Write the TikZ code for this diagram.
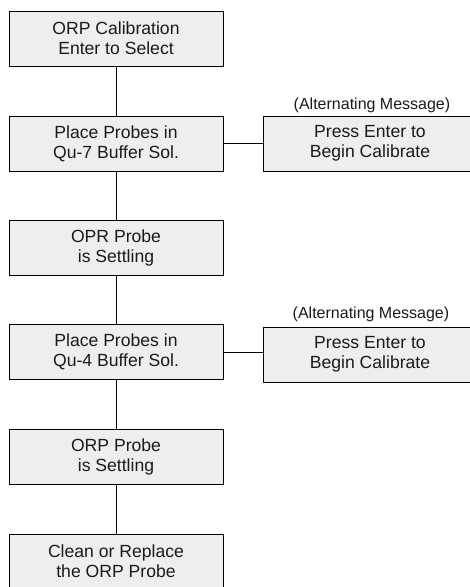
\documentclass[tikz,border=0pt]{standalone}
\usepackage{fontspec}
\setmainfont{Liberation Sans}
\usepackage{xcolor}
\usepackage{tikz}
\usetikzlibrary{positioning}
\definecolor{boxgray}{HTML}{EEEEEE}
\definecolor{inkblack}{HTML}{1A1A1A}

\begin{document}
\begin{tikzpicture}[
      x=0.75pt, y=-0.75pt,
      every node/.style={text=inkblack},
      stepbox/.style={draw=black, line width=0.75pt, fill=boxgray,
                      minimum width=160.5pt, minimum height=41.25pt,
                      inner sep=0pt, align=center,
                      font=\fontsize{13.2}{15}\selectfont},
      note/.style={font=\fontsize{12}{14}\selectfont, inner sep=0pt},
      link/.style={line width=0.7pt, black},
    ]
    \useasboundingbox (0,0) rectangle (470,587);
    \clip (0,0) rectangle (470,587);

    % main column
    \node[stepbox] (cal)     at (116, 38.5) {ORP Calibration\\Enter to Select};
    \node[stepbox] (buf7)    at (116,143.5) {Place Probes in\\Qu-7 Buffer Sol.};
    \node[stepbox] (settle1) at (116,247.5) {OPR Probe\\is Settling};
    \node[stepbox] (buf4)    at (116,352.0) {Place Probes in\\Qu-4 Buffer Sol.};
    \node[stepbox] (settle2) at (116,456.5) {ORP Probe\\is Settling};
    \node[stepbox] (clean)   at (116,561.5) {Clean or Replace\\the ORP Probe};

    % alternating messages
    \node[stepbox] (press7) at (370,143.5) {Press Enter to\\Begin Calibrate};
    \node[note]    (alt7)   at (372,105)   {(Alternating Message)};
    \node[stepbox] (press4) at (370,354.5) {Press Enter to\\Begin Calibrate};
    \node[note]    (alt4)   at (371,314)   {(Alternating Message)};

    \draw[link] (cal) -- (buf7);
    \draw[link] (buf7) -- (settle1);
    \draw[link] (settle1) -- (buf4);
    \draw[link] (buf4) -- (settle2);
    \draw[link] (settle2) -- (clean);
    \draw[link] (buf7.east) -- (press7.west);
    \draw[link] (buf4.east) -- (press4.west |- buf4.east);
    \end{tikzpicture}
\end{document}
